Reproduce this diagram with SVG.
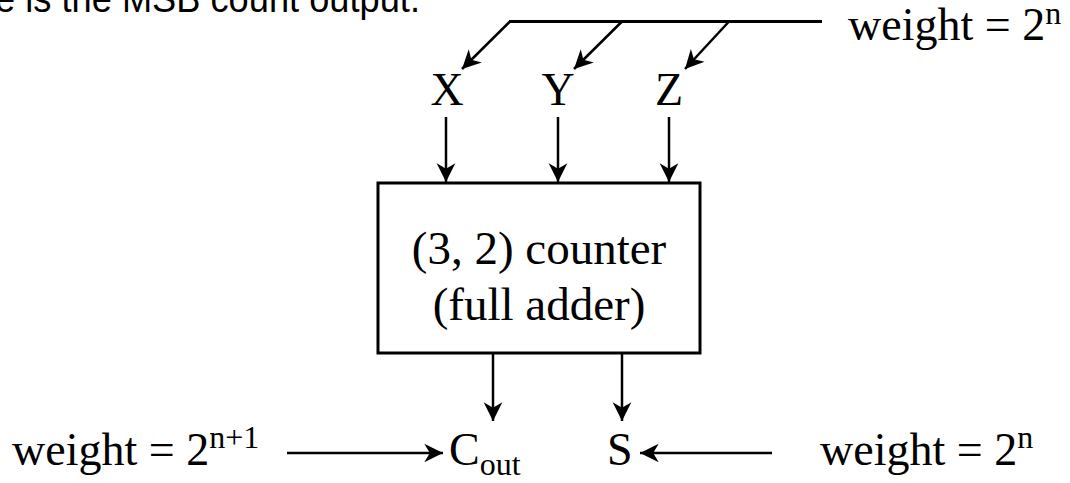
<svg xmlns="http://www.w3.org/2000/svg" width="1070" height="483" viewBox="0 0 1070 483">
<defs>
<style>
.t{font-family:"Liberation Serif","Times New Roman",serif;font-size:46px;fill:#000}
.b{font-family:"Liberation Serif","Times New Roman",serif;font-size:47px;fill:#000}
.sup{font-size:32px}
.s{font-family:"Liberation Sans",Arial,sans-serif;font-size:39px;fill:#000}
.ln{stroke:#000;stroke-width:2.5;fill:none}
.bus{stroke:#000;stroke-width:3;fill:none}
</style>
<marker id="ah" markerUnits="userSpaceOnUse" markerWidth="22" markerHeight="22" viewBox="-18 -10 20 20" refX="0" refY="0" orient="auto">
<path d="M0,0 L-17,-8.5 L-12,0 L-17,8.5 Z" fill="#000"/>
</marker>
</defs>
<text class="s" x="-5" y="12" textLength="425" lengthAdjust="spacingAndGlyphs">e is the MSB count output.</text>
<g id="connectors">
<path class="bus" d="M509,21.5 H822"/>
<path class="ln" d="M510,21.5 L462,69" marker-end="url(#ah)"/>
<path class="ln" d="M622,21.5 L574,69" marker-end="url(#ah)"/>
<path class="ln" d="M729,21.5 L685,69" marker-end="url(#ah)"/>
<path class="ln" d="M446,117 V182" marker-end="url(#ah)"/>
<path class="ln" d="M558,117 V182" marker-end="url(#ah)"/>
<path class="ln" d="M669,117 V182" marker-end="url(#ah)"/>
<path class="ln" d="M493,354 V421" marker-end="url(#ah)"/>
<path class="ln" d="M622,354 V421" marker-end="url(#ah)"/>
<path class="ln" d="M287,453 H443" marker-end="url(#ah)"/>
<path class="ln" d="M772,453 H640" marker-end="url(#ah)"/>
</g>
<g id="weight-top"><text class="t" x="848" y="40">weight = 2<tspan class="sup" dy="-16">n</tspan></text></g>
<g id="X"><text class="t" x="447" y="105" text-anchor="middle">X</text></g>
<g id="Y"><text class="t" x="558" y="105" text-anchor="middle">Y</text></g>
<g id="Z"><text class="t" x="669" y="105" text-anchor="middle">Z</text></g>
<g id="counter">
<rect x="378" y="183" width="322" height="170" fill="#fff" stroke="#000" stroke-width="3"/>
<text class="b" x="539" y="264" text-anchor="middle">(3, 2) counter</text>
<text class="b" x="539" y="320" text-anchor="middle">(full adder)</text>
</g>
<g id="weight-carry"><text class="t" x="12" y="465">weight = 2<tspan class="sup" dy="-17">n+1</tspan></text></g>
<g id="Cout"><text class="t" x="449" y="465">C<tspan class="sup" dy="10">out</tspan></text></g>
<g id="S"><text class="t" x="607" y="465">S</text></g>
<g id="weight-sum"><text class="t" x="820" y="465">weight = 2<tspan class="sup" dy="-17">n</tspan></text></g>
</svg>
